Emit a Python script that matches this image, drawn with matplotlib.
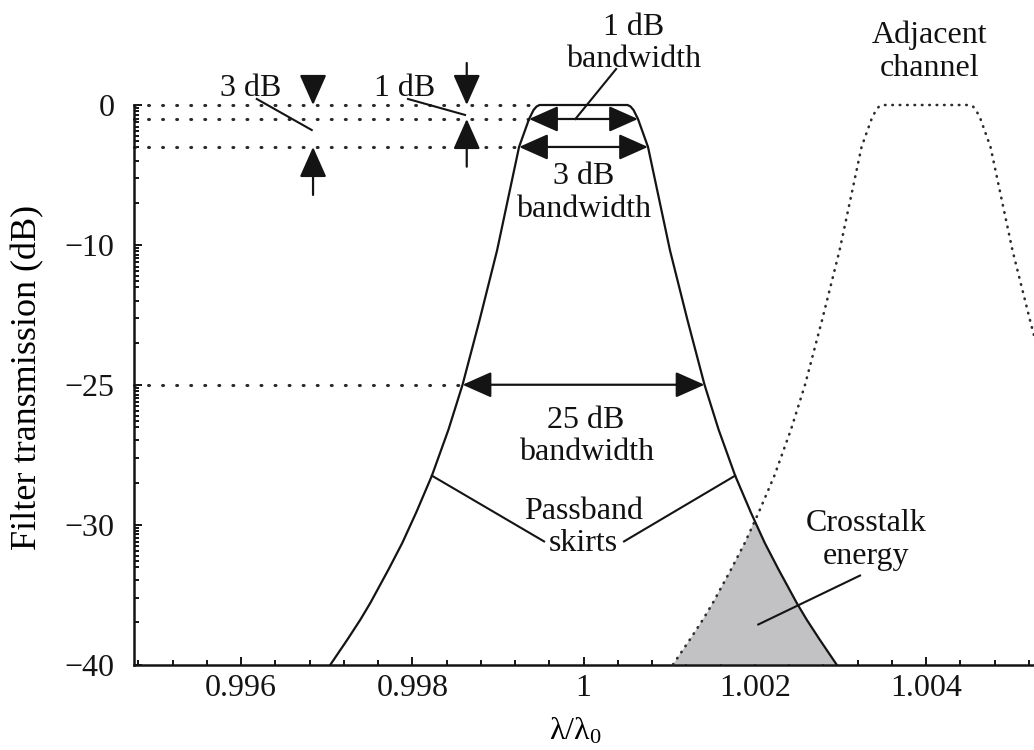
import matplotlib

matplotlib.use("Agg")
import matplotlib.pyplot as plt
import numpy as np
from matplotlib.ticker import FixedLocator, MultipleLocator

plt.rcParams["font.family"] = ["Liberation Serif", "DejaVu Serif"]
plt.rcParams["mathtext.fontset"] = "custom"
plt.rcParams["mathtext.rm"] = "Liberation Serif"
plt.rcParams["mathtext.it"] = "Liberation Serif:italic"

# main channel filter (left skirt -> flat top -> right skirt)
main_wl = [0.997045, 0.997244, 0.997393, 0.997510, 0.997723, 0.997884, 0.998048,
           0.998229, 0.998423, 0.998587, 0.998785, 0.998990, 0.999247, 0.999364,
           0.999416, 0.999451, 0.999486,
           1.000514, 1.000549, 1.000584, 1.000636, 1.000753, 1.001010, 1.001215,
           1.001413, 1.001577, 1.001771, 1.001952, 1.002116, 1.002277, 1.002490,
           1.002607, 1.002756, 1.002955]
main_db = [-40.0, -38.2, -36.8, -35.6, -33.2, -31.3, -29.1,
           -26.5, -23.2, -20.0, -15.4, -10.4, -3.0, -1.0,
           -0.36, -0.11, 0.0,
           0.0, -0.11, -0.36, -1.0, -3.0, -10.4, -15.4,
           -20.0, -23.2, -26.5, -29.1, -31.3, -33.2, -35.6,
           -36.8, -38.2, -40.0]

# adjacent channel (dotted), runs off the right edge
adj_wl = [1.001045, 1.001244, 1.001393, 1.001510, 1.001723, 1.001884, 1.002048,
          1.002229, 1.002423, 1.002587, 1.002785, 1.002990, 1.003247, 1.003364,
          1.003416, 1.003451, 1.003486,
          1.004514, 1.004549, 1.004584, 1.004636, 1.004753, 1.005010, 1.005215,
          1.005413]
adj_db = [-40.0, -38.2, -36.8, -35.6, -33.2, -31.3, -29.1,
          -26.5, -23.2, -20.0, -15.4, -10.4, -3.0, -1.0,
          -0.36, -0.11, 0.0,
          0.0, -0.11, -0.36, -1.0, -3.0, -10.4, -15.4,
          -20.0]
crossing = (1.002, -29.7)

# dotted guide levels and where they meet the left skirt
level_db = [0.0, -1.0, -3.0, -20.0]
level_end = [0.99945, 0.999364, 0.999247, 0.998587]

# bandwidth arrows: 1 dB, 3 dB, "25 dB"
bw_db = [-1.0, -3.0, -20.0]
bw_left = [0.999364, 0.999247, 0.998587]
bw_right = [1.000636, 1.000753, 1.001413]

xticks = [0.996, 0.998, 1.000, 1.002, 1.004]
xtick_labels = ["0.996", "0.998", "1", "1.002", "1.004"]
ytick_db = [0, -10, -20, -30, -40]
ytick_labels = ["0", "\u221210", "\u221225", "\u221230", "\u221240"]


def lin(db):
    return 10 ** (np.asarray(db, dtype=float) / 10)


fig = plt.figure(figsize=(10.34, 7.5), dpi=100)
ax = fig.add_axes([0.1296, 0.114, 0.8704, 0.746])
ax.set_yscale("log")
ax.set_xlim(0.99475, 1.005261)
ax.set_ylim(1e-4, 1)

ink = "#141414"
ax.plot(main_wl, lin(main_db), color=ink, lw=1.6, clip_on=False, zorder=3)
ax.plot(adj_wl, lin(adj_db), color="#2c2c2c", lw=1.9, ls=(0, (0.2, 2.6)),
        dash_capstyle="round", clip_on=False, zorder=3)

# crosstalk: under the adjacent left skirt and the main right skirt
aw, ad = np.array(adj_wl), np.array(adj_db)
mw, md = np.array(main_wl), np.array(main_db)
left = (aw < crossing[0]) & (ad < -29)
right = (mw > crossing[0]) & (md < -29)
poly_x = np.concatenate([aw[left], [crossing[0]], mw[right]])
poly_y = lin(np.concatenate([ad[left], [crossing[1]], md[right]]))
ax.fill(poly_x, poly_y, color="#c2c2c5", lw=0, zorder=2)

for db, x_end in zip(level_db, level_end):
    ax.plot([0.99475, x_end], lin([db, db]), color="#2a2a2a", lw=2.2,
            ls=(0, (0.3, 4.3)), dash_capstyle="round", clip_on=False, zorder=2)

head2 = "<|-|>,head_length=0.45,head_width=0.2"
for db, xl, xr in zip(bw_db, bw_left, bw_right):
    ax.annotate("", xy=(xr, lin(db)), xytext=(xl, lin(db)),
                arrowprops=dict(arrowstyle=head2, mutation_scale=40, color=ink,
                                lw=1.6, shrinkA=0, shrinkB=0),
                annotation_clip=False)

head1 = "-|>,head_length=0.45,head_width=0.2"
markers = [(0.996841, 1.93, 0.0), (0.996841, -6.43, -3.0),
           (0.998636, 3.0, 0.0), (0.998636, -4.41, -1.0)]
for x, tail, tip in markers:
    ax.annotate("", xy=(x, lin(tip)), xytext=(x, lin(tail)),
                arrowprops=dict(arrowstyle=head1, mutation_scale=42, color=ink,
                                lw=1.6, shrinkA=0, shrinkB=0),
                annotation_clip=False)

leaders = [((0.996184, 0.43), (0.996826, -1.79)),
           ((0.997950, 0.43), (0.998616, -0.71)),
           ((1.000380, 2.57), (0.999905, -1.0)),
           ((0.998229, -26.5), (0.999539, -31.2)),
           ((1.001771, -26.5), (1.000473, -31.2)),
           ((1.003229, -33.64), (1.002041, -37.14))]
for (x0, d0), (x1, d1) in leaders:
    ax.plot([x0, x1], lin([d0, d1]), color=ink, lw=1.5, clip_on=False, zorder=4)

txt = dict(fontsize=23, ha="center", va="center", linespacing=1.15, color="#111111")
ax.text(0.996117, lin(1.2), "3 dB", **txt)
ax.text(0.997915, lin(1.2), "1 dB", **txt)
ax.text(1.00059, lin(4.4), "1 dB\nbandwidth", **txt)
ax.text(1.004047, lin(3.8), "Adjacent\nchannel", **txt)
ax.text(1.0, lin(-6.3), "3 dB\nbandwidth", **txt)
ax.text(1.00003, lin(-23.7), "25 dB\nbandwidth", **txt)
ax.text(1.0, lin(-30.2), "Passband\nskirts", **txt)
ax.text(1.0033, lin(-31.1), "Crosstalk\nenergy", **txt)

ax.set_xticks(xticks, xtick_labels)
ax.xaxis.set_minor_locator(MultipleLocator(0.0004))
ax.set_yticks(lin(ytick_db), ytick_labels)
fracs = [0.2, 0.3, 0.4, 0.5, 0.55, 0.6, 0.65, 0.7, 0.75, 0.8, 0.85, 0.9, 0.95]
ax.yaxis.set_minor_locator(FixedLocator([d * f for d in lin(ytick_db[:-1]) for f in fracs]))
ax.yaxis.set_minor_formatter(plt.NullFormatter())

ax.tick_params(which="both", direction="in", width=1.4, colors=ink, labelsize=23)
ax.tick_params(which="major", length=6)
ax.tick_params(which="minor", length=3.6)
ax.tick_params(axis="x", pad=7)
ax.tick_params(axis="y", pad=14)

for side in ("top", "right"):
    ax.spines[side].set_visible(False)
for side in ("left", "bottom"):
    ax.spines[side].set_linewidth(1.8)
    ax.spines[side].set_color(ink)

ax.set_ylabel("Filter transmission (dB)", fontsize=26)
ax.yaxis.set_label_coords(-0.1, 0.5125)
ax.set_xlabel("\u03bb/\u03bb$_0$", fontsize=23)
ax.xaxis.set_label_coords(0.49, -0.092)

fig.savefig("out.png", dpi=100, facecolor="white")
